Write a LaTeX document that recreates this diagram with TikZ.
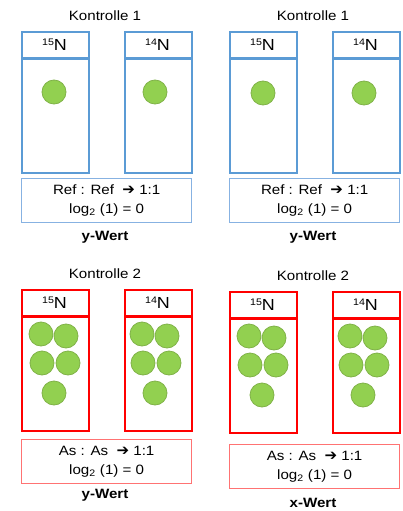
\documentclass[tikz,border=0pt]{standalone}
\usepackage{fontspec}
\setmainfont[FakeStretch=1.12]{Liberation Sans}
\newfontfamily\arrowfont{DejaVu Sans Bold}

\definecolor{tubeblue}{RGB}{91,155,213}
\definecolor{boxblue}{RGB}{135,178,226}
\definecolor{tubered}{RGB}{255,0,0}
\definecolor{boxred}{RGB}{255,115,115}
\definecolor{cellfill}{RGB}{146,208,80}
\definecolor{cellline}{RGB}{128,178,72}

\tikzset{
  tubebody/.style={draw=#1, line width=1.8pt, minimum width=67pt, minimum height=141pt,
    inner sep=0pt, anchor=north west},
  headbar/.style={fill=#1, minimum width=67pt, minimum height=2.3pt,
    inner sep=0pt, outer sep=0pt, anchor=west},
  isolabel/.style={font=\fontsize{16}{18}\selectfont, inner sep=0pt},
  ratiobox/.style={draw=#1, line width=1.3pt, minimum width=170pt, minimum height=44pt,
    inner sep=0pt, anchor=north west, align=center, font=\fontsize{13.5}{19}\selectfont},
  title/.style={font=\fontsize{13.5}{16}\selectfont, inner sep=0pt},
  valuelabel/.style={font=\fontsize{13.5}{16}\selectfont\bfseries, inner sep=0pt},
  cell/.style={circle, fill=cellfill, draw=cellline, line width=0.8pt,
    minimum size=24pt, inner sep=0pt},
}

\newcommand\isotope[1]{\raisebox{0.62ex}{\fontsize{9.5}{10}\selectfont #1}N}
\newcommand\ratioarrow{\ \ {\arrowfont\fontsize{15}{16}\selectfont\char"2794}\ }

% #1 origin, #2 name prefix, #3 tube colour, #4 box colour, #5 title,
% #6 sample name, #7 box top, #8 value label, #9 value label position
\newcommand\kpanel[9]{%
  \begin{scope}[shift={#1}, name prefix=#2-]
    \node[title] (title) at (84,-15) {#5};
    \node[tubebody=#3] (left) at (0,0) {};
    \node[tubebody=#3] (right) at (103,0) {};
    \node[headbar=#3] (lbar) at (0,27.5) {};
    \node[headbar=#3] (rbar) at (103,27.5) {};
    \node[isolabel] (liso) at (33.5,14) {\isotope{15}};
    \node[isolabel] (riso) at (136.5,14) {\isotope{14}};
    \node[ratiobox=#4] (box) at (0,#7)
      {#6 : #6\ratioarrow 1:1\\log\textsubscript{2} (1) = 0};
    \node[valuelabel] (value) at (84,#9) {#8};
  \end{scope}}

% five spots in each tube of a Kontrolle 2 panel
\newcommand\fivecells{%
  \foreach \n/\dx in {a/0, b/101} {
    \node[cell] (\n1) at (20+\dx,45) {};
    \node[cell] (\n2) at (45+\dx,47) {};
    \node[cell] (\n3) at (21+\dx,74) {};
    \node[cell] (\n4) at (47+\dx,74) {};
    \node[cell] (\n5) at (33+\dx,104) {};
  }}

\begin{document}
\begin{tikzpicture}[x=1pt, y=-1pt]
  \useasboundingbox (0,0) rectangle (403,511);

  % Kontrolle 1, blue
  \kpanel{(21,31)}{tl}{tubeblue}{boxblue}{Kontrolle 1}{Ref}{147}{y-Wert}{206}
  \kpanel{(229,31)}{tr}{tubeblue}{boxblue}{Kontrolle 1}{Ref}{147}{y-Wert}{206}

  % Kontrolle 2, red
  \kpanel{(21,289)}{bl}{tubered}{boxred}{Kontrolle 2}{As}{150}{y-Wert}{206}
  \kpanel{(229,291)}{br}{tubered}{boxred}{Kontrolle 2}{As}{153}{x-Wert}{212}

  % single spots, Kontrolle 1
  \begin{scope}[shift={(21,31)}, name prefix=tl-]
    \node[cell] (c1) at (33,61) {};
    \node[cell] (c2) at (134,61) {};
  \end{scope}
  \begin{scope}[shift={(229,31)}, name prefix=tr-]
    \node[cell] (c1) at (34,62) {};
    \node[cell] (c2) at (135,62) {};
  \end{scope}

  % five spots per tube, Kontrolle 2
  \begin{scope}[shift={(21,289)}, name prefix=bl-]
    \fivecells
  \end{scope}
  \begin{scope}[shift={(229,291)}, name prefix=br-]
    \fivecells
  \end{scope}
\end{tikzpicture}
\end{document}
